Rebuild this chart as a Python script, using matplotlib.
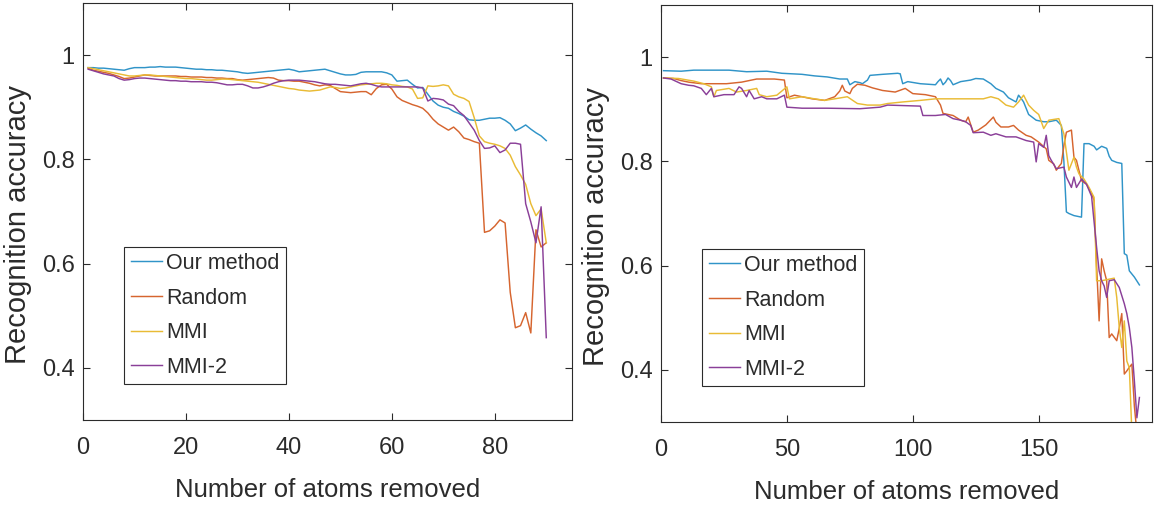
import matplotlib
matplotlib.use('Agg')
import matplotlib.pyplot as plt
from matplotlib.ticker import FuncFormatter

plt.rcParams['font.family'] = ['Liberation Sans', 'DejaVu Sans']

labels = ['Our method', 'Random', 'MMI', 'MMI-2']
colors = ['#3094c8', '#d6652f', '#e9bb35', '#8a3f98']

# ---------------- left panel ----------------
left_x = list(range(1, 91))
left_ours = [.976, .976, .975, .975, .974, .973, .972, .971, .974, .976,
             .976, .976, .977, .977, .978, .977, .977, .977, .976, .975,
             .974, .973, .973, .972, .972, .971, .971, .970, .969, .968,
             .966, .965, .966, .967, .968, .969, .970, .971, .972, .973,
             .971, .968, .969, .970, .971, .972, .973, .970, .967, .964,
             .962, .962, .963, .967, .968, .968, .968, .968, .966, .962,
             .950, .951, .952, .944, .937, .938, .925, .912, .904, .900,
             .898, .892, .888, .883, .876, .875, .875, .877, .879, .879,
             .880, .875, .868, .855, .860, .866, .858, .851, .845, .836]
left_random = [.975, .971, .969, .967, .965, .962, .959, .955, .956, .958,
               .960, .962, .961, .960, .960, .960, .960, .960, .959, .959,
               .958, .958, .958, .957, .957, .956, .956, .955, .955, .953,
               .952, .953, .954, .955, .956, .957, .956, .952, .951, .951,
               .950, .950, .948, .946, .943, .941, .943, .942, .936, .930,
               .929, .928, .929, .930, .930, .924, .936, .943, .944, .935,
               .920, .913, .909, .905, .902, .898, .889, .877, .868, .862,
               .856, .862, .853, .841, .838, .834, .831, .660, .663, .672,
               .684, .678, .545, .477, .481, .506, .467, .665, .632, .640]
left_mmi = [.976, .974, .972, .970, .968, .966, .964, .962, .960, .960,
            .961, .962, .962, .961, .960, .959, .958, .957, .956, .955,
            .955, .954, .953, .952, .952, .953, .954, .954, .953, .952,
            .951, .950, .949, .948, .946, .944, .942, .940, .938, .936,
            .935, .933, .932, .931, .932, .933, .936, .939, .938, .936,
            .937, .939, .941, .943, .944, .945, .946, .946, .945, .943,
            .942, .940, .939, .935, .917, .918, .941, .940, .941, .943,
            .941, .925, .920, .917, .911, .880, .845, .834, .831, .829,
            .826, .821, .808, .786, .770, .752, .715, .692, .705, .640]
left_mmi2 = [.973, .970, .967, .964, .962, .960, .955, .952, .953, .955,
             .956, .956, .955, .954, .953, .952, .951, .951, .950, .950,
             .949, .949, .949, .948, .948, .947, .945, .943, .943, .944,
             .944, .941, .937, .937, .939, .942, .946, .949, .951, .952,
             .952, .952, .951, .950, .949, .947, .945, .944, .944, .943,
             .942, .941, .943, .945, .946, .944, .941, .939, .939, .939,
             .939, .939, .939, .939, .939, .937, .912, .917, .916, .914,
             .906, .903, .892, .884, .870, .856, .836, .821, .822, .826,
             .813, .818, .831, .831, .829, .715, .680, .640, .709, .458]

# ---------------- right panel ----------------
right_ours_x = [1, 8, 13, 27, 34, 42, 48, 56, 61, 66, 71, 74, 75, 77, 79, 80, 82, 83, 88, 94,
                95, 96, 98, 103, 109, 110, 111, 112, 113, 114, 115, 116, 119, 123, 125, 128, 131, 133, 136, 138,
                141, 142, 143, 144, 146, 149, 152, 154, 157, 159, 160, 161, 162, 164, 167, 168, 170, 172, 173, 175,
                177, 178, 179, 181, 183, 184, 185, 186, 188, 190]
right_ours_y = [.974, .973, .975, .975, .972, .973, .969, .967, .964, .962, .958, .958, .947, .953, .951, .949, .956, .965, .967, .969,
                .968, .949, .953, .949, .947, .953, .958, .947, .952, .960, .955, .947, .953, .956, .959, .958, .949, .940, .933, .922,
                .914, .927, .921, .914, .890, .879, .876, .876, .879, .869, .800, .703, .700, .696, .693, .834, .834, .829, .822, .829,
                .825, .810, .802, .798, .796, .623, .620, .590, .578, .563]
right_random_x = [1, 5, 8, 11, 16, 26, 32, 38, 45, 49, 50, 53, 60, 65, 69, 71, 72, 73, 75, 76,
                  78, 81, 84, 88, 93, 97, 100, 105, 109, 111, 112, 116, 119, 121, 122, 124, 126, 129, 131, 132,
                  133, 135, 138, 140, 142, 145, 147, 150, 153, 154, 156, 157, 158, 159, 160, 161, 163, 164, 165, 167,
                  169, 171, 172, 173, 174, 175, 176, 177, 178, 179, 181, 182, 183, 184, 185, 186, 187, 188, 189, 190]
right_random_y = [.960, .959, .955, .952, .949, .949, .952, .958, .958, .956, .922, .927, .920, .917, .924, .935, .946, .935, .930, .940,
                  .948, .946, .941, .936, .933, .940, .930, .928, .924, .908, .892, .888, .879, .876, .885, .856, .860, .870, .880, .885,
                  .875, .866, .866, .869, .860, .850, .847, .837, .824, .802, .795, .783, .790, .796, .830, .856, .860, .808, .802, .763,
                  .756, .738, .725, .600, .494, .613, .590, .571, .462, .469, .456, .480, .508, .392, .398, .405, .411, .330, .280, .290]
right_mmi_x = [1, 7, 13, 17, 20, 21, 22, 27, 30, 34, 38, 39, 42, 46, 50, 51, 56, 61, 65, 69,
               74, 78, 82, 87, 90, 96, 103, 109, 120, 128, 131, 134, 137, 140, 142, 144, 146, 148, 150, 152,
               154, 158, 160, 161, 162, 164, 165, 166, 168, 170, 172, 173, 175, 177, 180, 181, 182, 183, 184, 185,
               186, 187, 188]
right_mmi_y = [.960, .959, .954, .949, .943, .924, .936, .940, .933, .936, .940, .928, .924, .927, .943, .920, .924, .920, .917, .920,
               .924, .911, .908, .908, .911, .914, .917, .920, .920, .920, .924, .920, .908, .904, .914, .927, .908, .898, .890, .863,
               .879, .882, .853, .818, .783, .808, .789, .776, .766, .750, .731, .571, .571, .573, .576, .539, .481, .443, .494, .417,
               .404, .280, .260]
right_mmi2_x = [1, 4, 8, 11, 13, 16, 18, 20, 21, 25, 29, 31, 32, 34, 35, 37, 40, 42, 46, 49,
                50, 56, 66, 79, 87, 90, 103, 104, 109, 113, 116, 119, 121, 123, 124, 128, 131, 133, 137, 141,
                145, 148, 149, 150, 152, 153, 154, 155, 157, 160, 161, 163, 164, 165, 167, 169, 171, 173, 174, 175,
                176, 177, 178, 180, 182, 184, 185, 186, 187, 188, 189, 190]
right_mmi2_y = [.960, .958, .949, .946, .945, .940, .928, .940, .924, .928, .928, .943, .940, .924, .936, .920, .924, .920, .920, .927,
                .904, .902, .902, .901, .904, .908, .906, .888, .888, .890, .882, .879, .876, .869, .855, .856, .850, .853, .847, .847,
                .840, .837, .799, .834, .827, .850, .811, .802, .786, .789, .770, .750, .770, .750, .766, .756, .733, .635, .590, .571,
                .561, .539, .571, .573, .558, .527, .508, .481, .443, .379, .308, .347]

x_ticks_left = [0, 20, 40, 60, 80]
x_ticks_right = [0, 50, 100, 150]
y_ticks = [0.4, 0.6, 0.8, 1.0]

W, H = 1156, 509
fig = plt.figure(figsize=(W / 100, H / 100), dpi=100)
fig.patch.set_facecolor('white')
ax1 = fig.add_axes([83 / W, 1 - 420 / H, 489 / W, 417 / H])
ax2 = fig.add_axes([661 / W, 1 - 422 / H, 491 / W, 417 / H])

left_series = [(left_x, left_ours), (left_x, left_random), (left_x, left_mmi), (left_x, left_mmi2)]
right_series = [(right_ours_x, right_ours_y), (right_random_x, right_random_y),
                (right_mmi_x, right_mmi_y), (right_mmi2_x, right_mmi2_y)]

txt = '#2b2b2b'
for ax, series, xl, xt in [(ax1, left_series, (0, 95), x_ticks_left),
                           (ax2, right_series, (0, 195), x_ticks_right)]:
    for (xs, ys), lab, c in zip(series, labels, colors):
        ax.plot(xs, ys, color=c, lw=1.05, label=lab)
    ax.set_xlim(*xl)
    ax.set_ylim(0.3, 1.1)
    ax.set_xticks(xt)
    ax.set_yticks(y_ticks)
    ax.yaxis.set_major_formatter(FuncFormatter(lambda v, p: f'{v:g}'))
    ax.tick_params(direction='in', top=True, right=True, length=5, width=0.8,
                   labelsize=17, colors=txt)
    ax.tick_params(axis='x', pad=12)
    ax.tick_params(axis='y', pad=6)
    for s in ax.spines.values():
        s.set_color(txt)
        s.set_linewidth(0.8)
    ax.set_xlabel('Number of atoms removed', fontsize=18.5, color=txt)
    ax.set_ylabel('Recognition accuracy', fontsize=21, color=txt)
    ax.xaxis.set_label_coords(0.5, -0.14)
    ax.yaxis.set_label_coords(-0.104, 0.47)
    leg = ax.legend(loc='lower left', bbox_to_anchor=(0.084, 0.086), borderaxespad=0,
                    frameon=True, fancybox=False, edgecolor=txt, framealpha=1,
                    fontsize=15.5, handlelength=1.45, handletextpad=0.2,
                    labelspacing=0.63, borderpad=0.3)
    leg.get_frame().set_linewidth(0.8)
    for t in leg.get_texts():
        t.set_color(txt)

fig.savefig('out.png', dpi=100, facecolor='white')
